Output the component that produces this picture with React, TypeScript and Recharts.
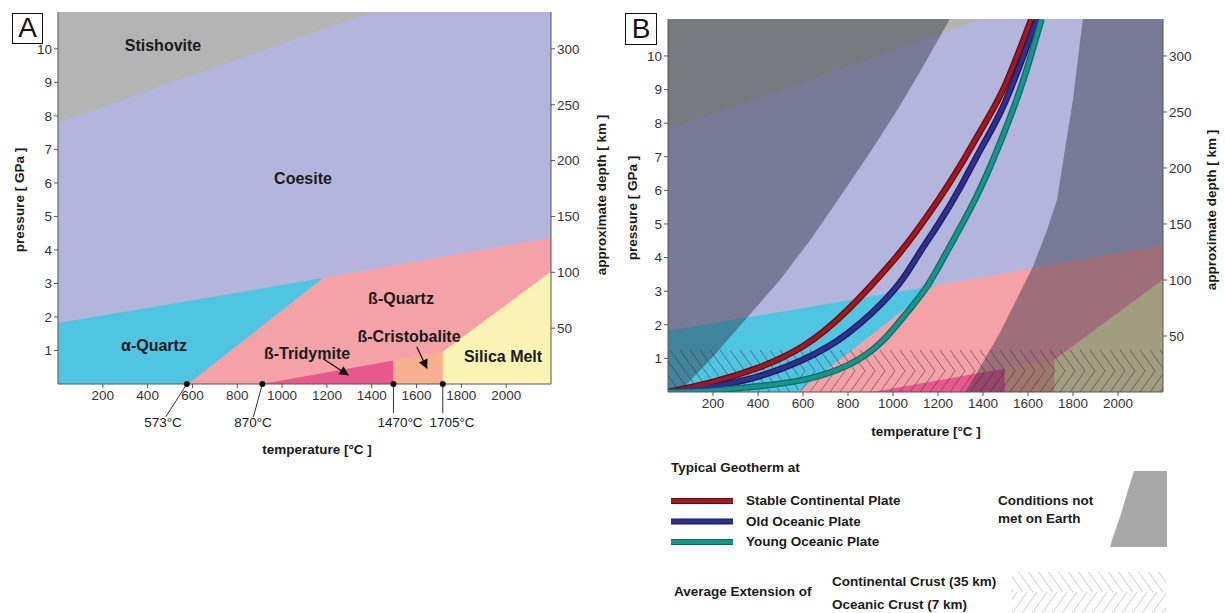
import React from 'react';
import { ComposedChart, Area, Line, XAxis, YAxis, ReferenceLine, ReferenceDot } from 'recharts';

const FONT = '"Liberation Sans", Arial, Helvetica, sans-serif';
const TOP = 11.1; // GPa at the top of both plots
const T_MAX = 2200;
const KM_PER_GPA = 30;

const tempTicks = [200, 400, 600, 800, 1000, 1200, 1400, 1600, 1800, 2000];
const pressureTicks = [1, 2, 3, 4, 5, 6, 7, 8, 9, 10];
const depthTicks = [50, 100, 150, 200, 250, 300];

// phase boundaries, [temperature °C, pressure GPa]
const stishoviteEdge = [[0, 7.8], [1400, 11.1]];
const alphaCoesiteEdge = [[0, 1.82], [1183, 3.16]];
const betaCoesiteEdge = [[1183, 3.16], [2200, 4.37]];
const alphaBetaEdge = [[580, 0], [1183, 3.16]];
const tridymiteEdge = [[911, 0], [1497, 0.7]];
const cristobaliteEdge = [[1497, 0.72], [1717, 0.96]];
const meltEdge = [[1717, 0.96], [2200, 3.35]];

// transitions at surface pressure (panel A)
const transitionTemps = [575, 912, 1497, 1717];
const transitionLabels = ['573°C', '870°C', '1470°C', '1705°C'];

// geotherms (panel B)
const stableContinental = [[0, 0], [200, 0.3], [400, 0.72], [600, 1.36], [800, 2.45], [1000, 3.9], [1100, 4.75], [1200, 5.7], [1300, 6.75], [1400, 7.9], [1500, 9.15], [1615, 11.1]];
const oldOceanic = [[0, 0], [200, 0.17], [400, 0.46], [600, 0.96], [800, 1.75], [1000, 3.0], [1100, 3.95], [1200, 4.98], [1300, 6.1], [1400, 7.35], [1500, 8.65], [1640, 11.1]];
const youngOceanic = [[0, 0], [200, 0.05], [400, 0.17], [600, 0.36], [800, 0.8], [950, 1.5], [1060, 2.35], [1150, 3.13], [1250, 4.3], [1370, 5.8], [1475, 7.4], [1575, 9.2], [1660, 11.1]];

// conditions not met on Earth (panel B)
const coldEdge = [[0, 0], [50, 0], [200, 1.05], [350, 2.2], [498, 3.34], [630, 4.5], [756, 5.72], [900, 7.15], [1020, 8.4], [1120, 9.53], [1253, 11.1]];
const hotEdge = [[1320, 0], [1373, 0.58], [1476, 1.77], [1549, 2.75], [1622, 3.73], [1680, 4.74], [1729, 5.72], [1764, 7.21], [1800, 8.7], [1827, 10.2], [1844, 11.1], [2200, 11.1]];

// crust thickness, GPa
const continentalCrust = 1.25;
const oceanicCrust = 0.62;
const oceanicFrom = 580;

const below = (pts: number[][]) => pts.map(([t, p]) => ({ t, r: [0, p] }));
const above = (pts: number[][]) => pts.map(([t, p]) => ({ t, r: [p, TOP] }));
const slab = (t0: number, t1: number, lo: number, hi: number) => [{ t: t0, r: [lo, hi] }, { t: t1, r: [lo, hi] }];
const curve = (pts: number[][]) => pts.map(([t, p]) => ({ t, p }));
const depthFrame = [{ t: 0, km: 0 }, { t: T_MAX, km: TOP * KM_PER_GPA }];

const C = {
  stish: '#b4b4b4',
  coesite: '#b3b5dc',
  alpha: '#4fc5e2',
  beta: '#f4a2a8',
  trid: '#e9588c',
  crist: '#f6b08f',
  melt: '#fbf3b3',
  shade: 'rgba(45,45,62,0.43)',
};

const geotherms = [
  { name: 'Stable Continental Plate', data: stableContinental, core: '#a3171f', edge: '#64090f' },
  { name: 'Old Oceanic Plate', data: oldOceanic, core: '#2f2f90', edge: '#1a1a5e' },
  { name: 'Young Oceanic Plate', data: youngOceanic, core: '#16958b', edge: '#0d6a63' },
];

const tickStyle = { fontSize: 13.5, fill: '#333', fontFamily: FONT };

const area = (key: string, data: any[], fill: string) => (
  <Area
    key={key}
    yAxisId="p"
    data={data}
    dataKey="r"
    type="linear"
    fill={fill}
    fillOpacity={1}
    stroke="none"
    dot={false}
    activeDot={false}
    isAnimationActive={false}
  />
);

const phaseAreas = (k: string) => [
  area(k + 'coe', slab(0, T_MAX, 0, TOP), C.coesite),
  area(k + 'sti', above(stishoviteEdge), C.stish),
  area(k + 'alp', below(alphaCoesiteEdge), C.alpha),
  area(k + 'bet', below([...alphaBetaEdge, betaCoesiteEdge[1]]), C.beta),
  area(k + 'tri', below(tridymiteEdge), C.trid),
  area(k + 'cri', below(cristobaliteEdge), C.crist),
  area(k + 'mel', below(meltEdge), C.melt),
];

function Panel({ b }: { b: boolean }) {
  return (
    <ComposedChart
      width={b ? 615 : 620}
      height={470}
      margin={{ top: b ? 19 : 12, right: 0, bottom: b ? 48 : 56, left: 0 }}
    >
      <XAxis type="number" dataKey="t" domain={[0, T_MAX]} ticks={tempTicks} interval={0} allowDataOverflow
        height={30} tickSize={4} tick={tickStyle} stroke="#555" />
      <XAxis xAxisId="top" orientation="top" type="number" dataKey="t" domain={[0, T_MAX]} ticks={tempTicks}
        interval={0} height={0} tickSize={4} tickFormatter={() => ''} stroke="#555" />
      <YAxis yAxisId="p" type="number" domain={[0, TOP]} ticks={pressureTicks} interval={0} allowDataOverflow
        width={58} tickSize={4} tick={tickStyle} stroke="#555" />
      <YAxis yAxisId="km" orientation="right" type="number" domain={[0, TOP * KM_PER_GPA]} ticks={depthTicks}
        interval={0} allowDataOverflow width={b ? 62 : 69} tickSize={4} tick={tickStyle} stroke="#555" />
      <Line yAxisId="km" data={depthFrame} dataKey="km" stroke="none" dot={false} activeDot={false}
        isAnimationActive={false} />
      {phaseAreas(b ? 'b' : 'a')}
      {b && area('cold', above(coldEdge), C.shade)}
      {b && area('hot', below(hotEdge), C.shade)}
      {b && area('cc1', slab(0, oceanicFrom, 0, continentalCrust), 'url(#hatchBack)')}
      {b && area('cc2', slab(oceanicFrom, T_MAX, oceanicCrust, continentalCrust), 'url(#hatchBack)')}
      {b && area('oc', slab(oceanicFrom, T_MAX, 0, oceanicCrust), 'url(#hatchFwd)')}
      {b && geotherms.map((g) => (
        <Line key={g.name + 'e'} yAxisId="p" data={curve(g.data)} dataKey="p" type="natural" stroke={g.edge}
          strokeWidth={6.5} dot={false} activeDot={false} isAnimationActive={false} />
      ))}
      {b && geotherms.map((g) => (
        <Line key={g.name + 'c'} yAxisId="p" data={curve(g.data)} dataKey="p" type="natural" stroke={g.core}
          strokeWidth={4} dot={false} activeDot={false} isAnimationActive={false} />
      ))}
      {!b && (
        <ReferenceLine yAxisId="p" segment={[{ x: 1183, y: 0.75 }, { x: 1295, y: 0.27 }]} stroke="#111"
          strokeWidth={1.2} markerEnd="url(#arrowHead)" ifOverflow="visible" />
      )}
      {!b && (
        <ReferenceLine yAxisId="p" segment={[{ x: 1601, y: 1.11 }, { x: 1646, y: 0.47 }]} stroke="#111"
          strokeWidth={1.2} markerEnd="url(#arrowHead)" ifOverflow="visible" />
      )}
      {!b && (
        <ReferenceLine yAxisId="p" segment={[{ x: transitionTemps[0], y: 0 }, { x: 481, y: -0.98 }]} stroke="#333" ifOverflow="visible" />
      )}
      {!b && (
        <ReferenceLine yAxisId="p" segment={[{ x: transitionTemps[1], y: 0 }, { x: 872, y: -0.98 }]} stroke="#333" ifOverflow="visible" />
      )}
      {!b && (
        <ReferenceLine yAxisId="p" segment={[{ x: transitionTemps[2], y: 0 }, { x: transitionTemps[2], y: -0.87 }]} stroke="#333" ifOverflow="visible" />
      )}
      {!b && (
        <ReferenceLine yAxisId="p" segment={[{ x: transitionTemps[3], y: 0 }, { x: transitionTemps[3], y: -0.87 }]} stroke="#333" ifOverflow="visible" />
      )}
      {!b && transitionTemps.map((t) => (
        <ReferenceDot key={t} yAxisId="p" x={t} y={0} r={3} fill="#111" stroke="none" ifOverflow="visible" />
      ))}
    </ComposedChart>
  );
}

type TxtProps = { x: number; y: number; children: React.ReactNode; size?: number; bold?: boolean; rot?: boolean; left?: boolean };
const Txt = ({ x, y, children, size = 13.5, bold = true, rot = false, left = false }: TxtProps) => (
  <div
    style={{
      position: 'absolute',
      left: x,
      top: y,
      transform: left ? 'translate(0,-50%)' : `translate(-50%,-50%)${rot ? ' rotate(-90deg)' : ''}`,
      fontFamily: FONT,
      fontSize: size,
      fontWeight: bold ? 700 : 400,
      color: '#1a1a1a',
      whiteSpace: 'nowrap',
      lineHeight: 1,
    }}
  >
    {children}
  </div>
);

const Box = ({ x, y, w, h, label }: { x: number; y: number; w: number; h: number; label: string }) => (
  <div
    style={{
      position: 'absolute', left: x, top: y, width: w, height: h, border: '1.5px solid #111', background: '#fff',
      boxSizing: 'border-box', fontFamily: FONT, fontSize: 28, lineHeight: `${h - 3}px`, textAlign: 'center', color: '#111',
    }}
  >
    {label}
  </div>
);

export default function App() {
  return (
    <div style={{ position: 'absolute', left: 0, top: 0, width: 1225, height: 613, background: '#fff', overflow: 'hidden' }}>
      <svg width={0} height={0} style={{ position: 'absolute' }}>
        <defs>
          <pattern id="hatchBack" width="10" height="14" patternUnits="userSpaceOnUse">
            <path d="M-1,-1.4 L11,15.4" stroke="#333" strokeWidth="0.8" strokeOpacity="0.7" />
          </pattern>
          <pattern id="hatchFwd" width="10" height="14" patternUnits="userSpaceOnUse">
            <path d="M-1,15.4 L11,-1.4" stroke="#333" strokeWidth="0.8" strokeOpacity="0.7" />
          </pattern>
          <pattern id="hatchBackLight" width="10" height="14" patternUnits="userSpaceOnUse">
            <path d="M-1,-1.4 L11,15.4" stroke="#bdbdbd" strokeWidth="0.8" />
          </pattern>
          <pattern id="hatchFwdLight" width="10" height="14" patternUnits="userSpaceOnUse">
            <path d="M-1,15.4 L11,-1.4" stroke="#bdbdbd" strokeWidth="0.8" />
          </pattern>
          <marker id="arrowHead" viewBox="0 0 10 10" refX="9" refY="5" markerWidth="9" markerHeight="8" orient="auto">
            <path d="M0,0 L10,5 L0,10 z" fill="#111" />
          </marker>
        </defs>
      </svg>

      <div style={{ position: 'absolute', left: 0, top: 0 }}>
        <Panel b={false} />
      </div>
      <div style={{ position: 'absolute', left: 610, top: 0 }}>
        <Panel b={true} />
      </div>

      {/* panel A texts */}
      <Txt x={163} y={46} size={16}>Stishovite</Txt>
      <Txt x={303} y={179} size={16}>Coesite</Txt>
      <Txt x={401} y={299} size={16}>ß-Quartz</Txt>
      <Txt x={154} y={346} size={16}>α-Quartz</Txt>
      <Txt x={307} y={354} size={16}>ß-Tridymite</Txt>
      <Txt x={409} y={337} size={16}>ß-Cristobalite</Txt>
      <Txt x={503} y={357} size={16}>Silica Melt</Txt>
      {transitionLabels.map((l, i) => (
        <Txt key={l} x={[163, 253, 400, 452][i]} y={423} bold={false}>{l}</Txt>
      ))}
      <Txt x={317} y={450}>temperature [°C ]</Txt>
      <Txt x={20} y={200} rot>pressure [ GPa ]</Txt>
      <Txt x={602} y={195} rot>approximate depth [ km ]</Txt>

      {/* panel B texts */}
      <Txt x={926} y={432}>temperature [°C ]</Txt>
      <Txt x={633} y={208} rot>pressure [ GPa ]</Txt>
      <Txt x={1212} y={210} rot>approximate depth [ km ]</Txt>

      <Box x={12} y={13} w={31} h={31} label="A" />
      <Box x={625} y={13} w={32} h={32} label="B" />

      {/* legend of panel B */}
      <svg width={1225} height={613} style={{ position: 'absolute', left: 0, top: 0 }}>
        {geotherms.map((g, i) => (
          <g key={g.name}>
            <line x1={671} x2={733} y1={501 + i * 20.5} y2={501 + i * 20.5} stroke={g.edge} strokeWidth={6} />
            <line x1={671} x2={733} y1={501 + i * 20.5} y2={501 + i * 20.5} stroke={g.core} strokeWidth={4} />
          </g>
        ))}
        <polygon points="1134,471 1167,471 1167,547 1110,547 1112,540 1120,517 1128,490" fill="#a8a8a8" />
        <rect x={1012} y={572} width={154} height={20} fill="url(#hatchBackLight)" />
        <rect x={1012} y={592} width={154} height={21} fill="url(#hatchFwdLight)" />
      </svg>
      <Txt x={671} y={468} left>Typical Geotherm at</Txt>
      {geotherms.map((g, i) => (
        <Txt key={g.name} x={746} y={501 + i * 20.5} left>{g.name}</Txt>
      ))}
      <Txt x={998} y={501} left>Conditions not</Txt>
      <Txt x={998} y={519} left>met on Earth</Txt>
      <Txt x={674} y={592} left>Average Extension of</Txt>
      <Txt x={832} y={582} left>Continental Crust (35 km)</Txt>
      <Txt x={832} y={605} left>Oceanic Crust (7 km)</Txt>
    </div>
  );
}
